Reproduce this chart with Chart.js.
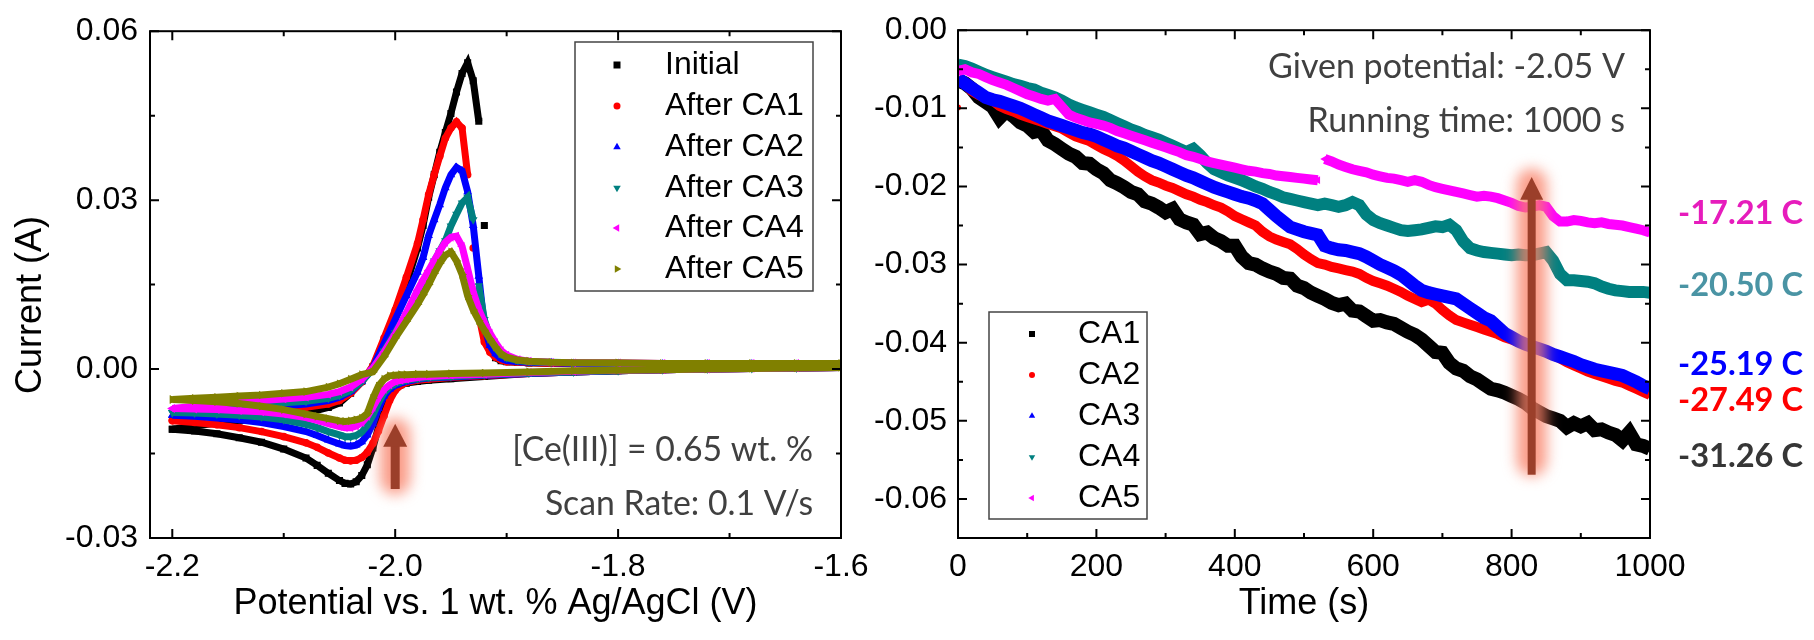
<!DOCTYPE html>
<html>
<head>
<meta charset="utf-8">
<script src="https://cdn.jsdelivr.net/npm/chart.js@4.4.0/dist/chart.umd.min.js"></script>
<style>
  body { margin: 0; background: #fff; }
  #wrap { position: relative; width: 1814px; height: 640px; }
  canvas { position: absolute; left: 0; top: 0; }
</style>
</head>
<body>
<div id="wrap">
  <canvas id="cvChart" width="1814" height="640"></canvas>
  <canvas id="caChart" width="1814" height="640"></canvas>
</div>
<script>
// ---------- left panel: cyclic voltammograms ----------
const cvLabels = ['Initial', 'After CA1', 'After CA2', 'After CA3', 'After CA4', 'After CA5'];

// forward (anodic) scan potentials, V
const potentialFwd = [-2.20, -2.18, -2.16, -2.14, -2.12, -2.10, -2.08, -2.06, -2.05, -2.04,
  -2.03, -2.02, -2.01, -2.00, -1.99, -1.98, -1.975, -1.97, -1.965, -1.96,
  -1.955, -1.95, -1.945, -1.94, -1.935, -1.93, -1.925, -1.92, -1.915, -1.91,
  -1.905, -1.90, -1.89, -1.88, -1.86, -1.84, -1.80, -1.76, -1.72, -1.68, -1.64, -1.60];
// reverse (cathodic) scan potentials, V
const potentialRev = [-1.60, -1.64, -1.68, -1.72, -1.76, -1.80, -1.84, -1.88, -1.92, -1.95,
  -1.97, -1.98, -1.99, -1.995, -2.00, -2.005, -2.01, -2.015, -2.02, -2.025,
  -2.03, -2.035, -2.04, -2.045, -2.05, -2.06, -2.07, -2.08, -2.10, -2.12,
  -2.14, -2.16, -2.18, -2.20];

const initialFwd = [-0.0107, -0.0101, -0.0096, -0.0092, -0.0088, -0.0084, -0.0078, -0.0068, -0.0060, -0.0043,
  -0.0022, 0.0004, 0.0047, 0.0098, 0.0150, 0.0215, 0.0255, 0.0305, 0.0345, 0.0385,
  0.0420, 0.0454, 0.0492, 0.0525, 0.0544, 0.0512, 0.0440, 0.0255, 0.0035, 0.0020,
  0.0015, 0.0013, 0.0012, 0.0011, 0.0010, 0.0010, 0.0009, 0.0009, 0.0008, 0.0008, 0.0008, 0.0008];
const initialRev = [0.0003, 0.0002, 0.0001, 0.0000, -0.0001, -0.0003, -0.0005, -0.0008, -0.0013, -0.0017,
  -0.0020, -0.0022, -0.0025, -0.0028, -0.0033, -0.0045, -0.0068, -0.0103, -0.0140, -0.0170,
  -0.0189, -0.0200, -0.0204, -0.0203, -0.0198, -0.0185, -0.0171, -0.0158, -0.0142, -0.0130,
  -0.0122, -0.0115, -0.0110, -0.0107];

const afterCa1Fwd = [-0.0091, -0.0086, -0.0082, -0.0078, -0.0075, -0.0072, -0.0068, -0.0062, -0.0056, -0.0043,
  -0.0023, 0.0006, 0.0055, 0.0105, 0.0163, 0.0223, 0.0265, 0.0310, 0.0345, 0.0378,
  0.0410, 0.0428, 0.0439, 0.0428, 0.0345, 0.0215, 0.0095, 0.0048, 0.0030, 0.0021,
  0.0016, 0.0013, 0.0012, 0.0011, 0.0010, 0.0010, 0.0009, 0.0009, 0.0008, 0.0008, 0.0008, 0.0008];
const afterCa1Rev = [0.0003, 0.0002, 0.0001, 0.0000, -0.0001, -0.0003, -0.0005, -0.0008, -0.0012, -0.0015,
  -0.0018, -0.0020, -0.0024, -0.0029, -0.0038, -0.0056, -0.0083, -0.0110, -0.0132, -0.0148,
  -0.0157, -0.0162, -0.0163, -0.0162, -0.0158, -0.0149, -0.0139, -0.0131, -0.0120, -0.0111,
  -0.0104, -0.0099, -0.0095, -0.0092];

const afterCa2Fwd = [-0.0082, -0.0078, -0.0074, -0.0071, -0.0068, -0.0065, -0.0062, -0.0056, -0.0050, -0.0040,
  -0.0022, 0.0003, 0.0045, 0.0088, 0.0130, 0.0172, 0.0198, 0.0237, 0.0265, 0.0292,
  0.0322, 0.0345, 0.0358, 0.0352, 0.0315, 0.0255, 0.0165, 0.0075, 0.0042, 0.0027,
  0.0019, 0.0015, 0.0013, 0.0012, 0.0011, 0.0010, 0.0010, 0.0009, 0.0009, 0.0009, 0.0008, 0.0008];
const afterCa2Rev = [0.0003, 0.0002, 0.0001, 0.0000, -0.0001, -0.0003, -0.0005, -0.0008, -0.0011, -0.0014,
  -0.0016, -0.0018, -0.0022, -0.0025, -0.0029, -0.0036, -0.0048, -0.0070, -0.0097, -0.0117,
  -0.0129, -0.0135, -0.0137, -0.0136, -0.0133, -0.0126, -0.0118, -0.0111, -0.0102, -0.0095,
  -0.0090, -0.0087, -0.0084, -0.0082];

const afterCa3Fwd = [-0.0077, -0.0073, -0.0069, -0.0066, -0.0063, -0.0060, -0.0057, -0.0052, -0.0047, -0.0038,
  -0.0022, 0.0000, 0.0032, 0.0065, 0.0097, 0.0130, 0.0150, 0.0170, 0.0192, 0.0210,
  0.0228, 0.0254, 0.0275, 0.0295, 0.0305, 0.0265, 0.0148, 0.0088, 0.0058, 0.0038,
  0.0026, 0.0020, 0.0015, 0.0013, 0.0012, 0.0011, 0.0010, 0.0010, 0.0009, 0.0009, 0.0009, 0.0009];
const afterCa3Rev = [0.0003, 0.0002, 0.0001, 0.0000, -0.0001, -0.0003, -0.0005, -0.0007, -0.0010, -0.0013,
  -0.0015, -0.0017, -0.0020, -0.0022, -0.0026, -0.0032, -0.0042, -0.0060, -0.0082, -0.0100,
  -0.0112, -0.0118, -0.0120, -0.0120, -0.0117, -0.0111, -0.0104, -0.0098, -0.0090, -0.0085,
  -0.0082, -0.0080, -0.0078, -0.0077];

const afterCa4Fwd = [-0.0070, -0.0066, -0.0062, -0.0059, -0.0056, -0.0053, -0.0050, -0.0045, -0.0040, -0.0032,
  -0.0018, 0.0002, 0.0030, 0.0062, 0.0100, 0.0140, 0.0158, 0.0175, 0.0193, 0.0210,
  0.0225, 0.0234, 0.0236, 0.0218, 0.0178, 0.0137, 0.0106, 0.0083, 0.0064, 0.0047,
  0.0033, 0.0025, 0.0017, 0.0014, 0.0012, 0.0011, 0.0011, 0.0010, 0.0010, 0.0010, 0.0010, 0.0010];
const afterCa4Rev = [0.0003, 0.0002, 0.0001, 0.0000, -0.0001, -0.0002, -0.0004, -0.0006, -0.0009, -0.0011,
  -0.0013, -0.0015, -0.0018, -0.0020, -0.0022, -0.0028, -0.0036, -0.0050, -0.0068, -0.0084,
  -0.0095, -0.0101, -0.0104, -0.0104, -0.0102, -0.0097, -0.0091, -0.0086, -0.0080, -0.0076,
  -0.0074, -0.0072, -0.0071, -0.0070];

const afterCa5Fwd = [-0.0054, -0.0052, -0.0050, -0.0048, -0.0046, -0.0043, -0.0040, -0.0032, -0.0026, -0.0018,
  -0.0010, -0.0005, 0.0022, 0.0055, 0.0085, 0.0115, 0.0132, 0.0150, 0.0170, 0.0188,
  0.0202, 0.0208, 0.0192, 0.0168, 0.0130, 0.0105, 0.0086, 0.0069, 0.0053, 0.0039,
  0.0027, 0.0021, 0.0016, 0.0014, 0.0012, 0.0011, 0.0011, 0.0010, 0.0010, 0.0010, 0.0010, 0.0010];
const afterCa5Rev = [0.0003, 0.0002, 0.0001, 0.0000, -0.0001, -0.0002, -0.0003, -0.0005, -0.0007, -0.0008,
  -0.0009, -0.0009, -0.0010, -0.0010, -0.0011, -0.0012, -0.0018, -0.0030, -0.0052, -0.0079,
  -0.0087, -0.0090, -0.0092, -0.0093, -0.0092, -0.0088, -0.0084, -0.0080, -0.0072, -0.0066,
  -0.0061, -0.0058, -0.0056, -0.0054];

const cvXMajor = [-2.2, -2.0, -1.8, -1.6];
const cvXMinor = [-2.1, -1.9, -1.7];
const cvYMajor = [-0.03, 0, 0.03, 0.06];
const cvYMinor = [-0.015, 0.015, 0.045];

// ---------- right panel: chronoamperometry ----------
const caLabels = ['CA1', 'CA2', 'CA3', 'CA4', 'CA5'];
const chargeLabels = ['-17.21 C', '-20.50 C', '-25.19 C', '-27.49 C', '-31.26 C'];

const timeS = [0, 10, 20, 30, 40, 50, 60, 70, 80, 90,
  100, 110, 120, 130, 140, 150, 160, 170, 180, 190,
  200, 210, 220, 230, 240, 250, 260, 270, 280, 290,
  300, 310, 320, 330, 340, 350, 360, 370, 380, 390,
  400, 410, 420, 430, 440, 450, 460, 470, 480, 490,
  500, 510, 520, 530, 540, 550, 560, 570, 580, 590,
  600, 610, 620, 630, 640, 650, 660, 670, 680, 690,
  700, 710, 720, 730, 740, 750, 760, 770, 780, 790,
  800, 810, 820, 830, 840, 850, 860, 870, 880, 890,
  900, 910, 920, 930, 940, 950, 960, 970, 980, 990, 1000];

const ca1Current = [-0.0064, -0.0068, -0.0075, -0.0086, -0.0092, -0.0098, -0.0112, -0.0103, -0.0110, -0.0118,
  -0.0122, -0.0130, -0.0128, -0.0141, -0.0146, -0.0152, -0.0158, -0.0162, -0.0170, -0.0171,
  -0.0178, -0.0183, -0.0192, -0.0196, -0.0201, -0.0207, -0.0210, -0.0219, -0.0222, -0.0227,
  -0.0233, -0.0229, -0.0242, -0.0246, -0.0249, -0.0261, -0.0259, -0.0266, -0.0270, -0.0276,
  -0.0276, -0.0290, -0.0298, -0.0300, -0.0305, -0.0309, -0.0312, -0.0317, -0.0318, -0.0327,
  -0.0330, -0.0336, -0.0340, -0.0344, -0.0349, -0.0352, -0.0350, -0.0359, -0.0360, -0.0366,
  -0.0372, -0.0371, -0.0374, -0.0376, -0.0381, -0.0386, -0.0390, -0.0396, -0.0404, -0.0412,
  -0.0413, -0.0426, -0.0433, -0.0436, -0.0443, -0.0447, -0.0453, -0.0459, -0.0461, -0.0464,
  -0.0468, -0.0472, -0.0477, -0.0484, -0.0489, -0.0494, -0.0497, -0.0500, -0.0508, -0.0503,
  -0.0507, -0.0503, -0.0512, -0.0511, -0.0515, -0.0518, -0.0525, -0.0515, -0.0530, -0.0532, -0.0536];

const ca2Current = [-0.0099, -0.0068, -0.0078, -0.0083, -0.0087, -0.0090, -0.0097, -0.0101, -0.0104, -0.0108,
  -0.0111, -0.0114, -0.0117, -0.0120, -0.0123, -0.0126, -0.0131, -0.0136, -0.0139, -0.0142,
  -0.0147, -0.0152, -0.0156, -0.0161, -0.0167, -0.0174, -0.0181, -0.0187, -0.0192, -0.0195,
  -0.0199, -0.0202, -0.0206, -0.0210, -0.0213, -0.0217, -0.0220, -0.0224, -0.0227, -0.0232,
  -0.0238, -0.0242, -0.0246, -0.0250, -0.0258, -0.0264, -0.0268, -0.0271, -0.0274, -0.0280,
  -0.0287, -0.0293, -0.0298, -0.0300, -0.0303, -0.0305, -0.0307, -0.0309, -0.0312, -0.0317,
  -0.0321, -0.0324, -0.0327, -0.0331, -0.0335, -0.0340, -0.0344, -0.0348, -0.0345, -0.0350,
  -0.0358, -0.0365, -0.0371, -0.0374, -0.0377, -0.0380, -0.0383, -0.0386, -0.0389, -0.0393,
  -0.0396, -0.0399, -0.0402, -0.0405, -0.0408, -0.0411, -0.0416, -0.0420, -0.0425, -0.0429,
  -0.0433, -0.0437, -0.0440, -0.0443, -0.0446, -0.0449, -0.0451, -0.0455, -0.0459, -0.0463, -0.0467];

const ca3Current = [-0.0062, -0.0068, -0.0074, -0.0080, -0.0086, -0.0089, -0.0091, -0.0094, -0.0097, -0.0100,
  -0.0104, -0.0108, -0.0112, -0.0116, -0.0119, -0.0122, -0.0125, -0.0128, -0.0131, -0.0133,
  -0.0136, -0.0140, -0.0144, -0.0148, -0.0151, -0.0155, -0.0159, -0.0163, -0.0167, -0.0170,
  -0.0174, -0.0178, -0.0182, -0.0186, -0.0189, -0.0193, -0.0197, -0.0201, -0.0204, -0.0207,
  -0.0210, -0.0213, -0.0215, -0.0218, -0.0222, -0.0230, -0.0238, -0.0245, -0.0252, -0.0255,
  -0.0258, -0.0260, -0.0262, -0.0276, -0.0279, -0.0281, -0.0282, -0.0284, -0.0286, -0.0290,
  -0.0295, -0.0300, -0.0304, -0.0308, -0.0313, -0.0320, -0.0327, -0.0333, -0.0336, -0.0338,
  -0.0340, -0.0342, -0.0344, -0.0350, -0.0356, -0.0362, -0.0368, -0.0372, -0.0380, -0.0388,
  -0.0393, -0.0398, -0.0402, -0.0405, -0.0408, -0.0411, -0.0415, -0.0418, -0.0421, -0.0424,
  -0.0428, -0.0431, -0.0434, -0.0436, -0.0438, -0.0440, -0.0442, -0.0446, -0.0450, -0.0455, -0.0459];

const ca4Current = [-0.0044, -0.0046, -0.0049, -0.0053, -0.0057, -0.0060, -0.0063, -0.0066, -0.0069, -0.0071,
  -0.0074, -0.0076, -0.0080, -0.0083, -0.0086, -0.0090, -0.0095, -0.0099, -0.0102, -0.0105,
  -0.0108, -0.0111, -0.0115, -0.0119, -0.0123, -0.0127, -0.0130, -0.0134, -0.0137, -0.0140,
  -0.0144, -0.0148, -0.0152, -0.0156, -0.0152, -0.0160, -0.0170, -0.0178, -0.0182, -0.0186,
  -0.0189, -0.0192, -0.0196, -0.0200, -0.0203, -0.0207, -0.0210, -0.0214, -0.0216, -0.0218,
  -0.0220, -0.0222, -0.0224, -0.0222, -0.0224, -0.0226, -0.0224, -0.0220, -0.0224, -0.0236,
  -0.0243, -0.0247, -0.0250, -0.0253, -0.0256, -0.0257, -0.0256, -0.0255, -0.0253, -0.0251,
  -0.0252, -0.0249, -0.0256, -0.0270, -0.0279, -0.0282, -0.0284, -0.0285, -0.0286, -0.0287,
  -0.0288, -0.0287, -0.0288, -0.0288, -0.0286, -0.0284, -0.0295, -0.0312, -0.0320, -0.0320,
  -0.0321, -0.0322, -0.0324, -0.0328, -0.0331, -0.0333, -0.0334, -0.0335, -0.0335, -0.0335, -0.0336];

const ca5Current = [-0.0052, -0.0050, -0.0054, -0.0056, -0.0060, -0.0064, -0.0067, -0.0070, -0.0074, -0.0078,
  -0.0082, -0.0085, -0.0088, -0.0090, -0.0088, -0.0098, -0.0108, -0.0112, -0.0115, -0.0118,
  -0.0120, -0.0122, -0.0125, -0.0129, -0.0132, -0.0135, -0.0138, -0.0141, -0.0144, -0.0147,
  -0.0150, -0.0153, -0.0156, -0.0160, -0.0162, -0.0165, -0.0168, -0.0170, -0.0172, -0.0174,
  -0.0176, -0.0178, -0.0180, -0.0181, -0.0183, -0.0184, -0.0186, -0.0187, -0.0188, -0.0189,
  -0.0190, -0.0191, -0.0192, -0.0165, -0.0168, -0.0172, -0.0175, -0.0178, -0.0180, -0.0182,
  -0.0185, -0.0187, -0.0189, -0.0190, -0.0192, -0.0194, -0.0192, -0.0194, -0.0198, -0.0201,
  -0.0203, -0.0205, -0.0207, -0.0209, -0.0211, -0.0213, -0.0212, -0.0213, -0.0215, -0.0218,
  -0.0221, -0.0225, -0.0227, -0.0226, -0.0224, -0.0226, -0.0238, -0.0245, -0.0245, -0.0243,
  -0.0244, -0.0246, -0.0247, -0.0246, -0.0248, -0.0249, -0.0250, -0.0252, -0.0254, -0.0256, -0.0259];

const caXMajor = [0, 200, 400, 600, 800, 1000];
const caXMinor = [100, 300, 500, 700, 900];
const caYMajor = [0, -0.01, -0.02, -0.03, -0.04, -0.05, -0.06];
const caYMinor = [-0.005, -0.015, -0.025, -0.035, -0.045, -0.055];

// ---------- styles ----------
const SANS = "'Liberation Sans', Arial, sans-serif";
const NOTE_FONT = "Lato, 'Open Sans', sans-serif";
Chart.defaults.font.family = SANS;
Chart.defaults.color = '#000';

const cvStyle = [
  { color: '#000000', point: 'rect', rot: 0, r: 5, marker: 'square' },
  { color: '#ff0000', point: 'circle', rot: 0, r: 3.8, marker: 'circle' },
  { color: '#0000ff', point: 'triangle', rot: 0, r: 5, marker: 'up' },
  { color: '#008080', point: 'triangle', rot: 180, r: 5, marker: 'down' },
  { color: '#ff00ff', point: 'triangle', rot: 270, r: 5, marker: 'left' },
  { color: '#808000', point: 'triangle', rot: 90, r: 5, marker: 'right' }
];
const caStyle = [
  { color: '#000000', point: 'rect', rot: 0, r: 4, marker: 'square', width: 14 },
  { color: '#ff0000', point: 'circle', rot: 0, r: 3, marker: 'circle', width: 10 },
  { color: '#0000ff', point: 'triangle', rot: 0, r: 5, marker: 'up', width: 13 },
  { color: '#008080', point: 'triangle', rot: 180, r: 5, marker: 'down', width: 12 },
  { color: '#ff00ff', point: 'triangle', rot: 270, r: 4.5, marker: 'left', width: 10 }
];
const chargeColors = ['#e61cbc', '#4a94a4', '#0000ff', '#ff0000', '#363636'];

function gapColor(limit) {
  return ctx => Math.hypot(ctx.p1.x - ctx.p0.x, ctx.p1.y - ctx.p0.y) > limit ? 'rgba(0,0,0,0)' : undefined;
}

function drawMarker(ctx, style, x, y, s, color) {
  ctx.fillStyle = color;
  ctx.beginPath();
  if (style === 'square') {
    ctx.rect(x - s / 2, y - s / 2, s, s);
  } else if (style === 'circle') {
    ctx.arc(x, y, s / 2, 0, Math.PI * 2);
  } else {
    const ang = { up: 0, right: 90, down: 180, left: 270 }[style] * Math.PI / 180;
    const r = s * 0.62;
    for (let k = 0; k < 3; k++) {
      const a = ang + k * 2 * Math.PI / 3;
      const px = x + Math.sin(a) * r, py = y - Math.cos(a) * r;
      if (k) ctx.lineTo(px, py); else ctx.moveTo(px, py);
    }
    ctx.closePath();
  }
  ctx.fill();
}

function fitSize(ctx, text, width, weight) {
  ctx.font = weight + ' 100px ' + NOTE_FONT;
  return 100 * width / ctx.measureText(text).width;
}

function drawArrow(ctx, sx, sy, ar) {
  const x = sx.getPixelForValue(ar.x);
  const yTip = sy.getPixelForValue(ar.tip);
  const yBase = sy.getPixelForValue(ar.base);
  const yEnd = sy.getPixelForValue(ar.end);
  const gTop = sy.getPixelForValue(ar.glowTop);
  const gBot = sy.getPixelForValue(ar.glowBottom);
  ctx.save();
  ctx.filter = 'blur(7px)';
  ctx.fillStyle = 'rgba(248,128,102,0.78)';
  ctx.beginPath();
  ctx.roundRect(x - 15, gTop + 8, 30, gBot - gTop - 16, 15);
  ctx.fill();
  ctx.restore();
  ctx.fillStyle = '#9b3f2a';
  ctx.fillRect(x - ar.shaft / 2, yBase - 1, ar.shaft, yEnd - yBase + 1);
  ctx.beginPath();
  ctx.moveTo(x, yTip);
  ctx.lineTo(x + ar.head / 2, yBase);
  ctx.lineTo(x - ar.head / 2, yBase);
  ctx.closePath();
  ctx.fill();
}

const frameDecor = {
  id: 'frameDecor',
  afterDatasetsDraw(chart, args, o) {
    const ctx = chart.ctx, a = chart.chartArea;
    const sx = chart.scales.x, sy = chart.scales.y;
    ctx.save();
    if (o.arrow) drawArrow(ctx, sx, sy, o.arrow);

    // box frame with inward ticks on all four sides
    ctx.strokeStyle = '#000';
    ctx.lineWidth = 2;
    ctx.strokeRect(a.left, a.top, a.right - a.left, a.bottom - a.top);
    ctx.beginPath();
    const xt = (v, len) => {
      const p = sx.getPixelForValue(v);
      ctx.moveTo(p, a.bottom); ctx.lineTo(p, a.bottom - len);
      ctx.moveTo(p, a.top); ctx.lineTo(p, a.top + len);
    };
    const yt = (v, len) => {
      const p = sy.getPixelForValue(v);
      ctx.moveTo(a.left, p); ctx.lineTo(a.left + len, p);
      ctx.moveTo(a.right, p); ctx.lineTo(a.right - len, p);
    };
    o.xMajor.forEach(v => xt(v, 9));
    o.xMinor.forEach(v => xt(v, 5));
    o.yMajor.forEach(v => yt(v, 9));
    o.yMinor.forEach(v => yt(v, 5));
    ctx.stroke();

    // axis titles
    ctx.fillStyle = '#000';
    ctx.font = '36px ' + SANS;
    ctx.textAlign = 'center';
    ctx.textBaseline = 'alphabetic';
    ctx.fillText(o.xTitle, (a.left + a.right) / 2, 614);
    if (o.yTitle) {
      ctx.save();
      ctx.translate(41, 305);
      ctx.rotate(-Math.PI / 2);
      ctx.fillText(o.yTitle, 0, 0);
      ctx.restore();
    }

    // legend box
    const lg = o.legend;
    ctx.strokeStyle = '#444';
    ctx.lineWidth = 1.5;
    ctx.strokeRect(lg.box[0], lg.box[1], lg.box[2] - lg.box[0], lg.box[3] - lg.box[1]);
    ctx.font = '32px ' + SANS;
    ctx.textAlign = 'left';
    ctx.textBaseline = 'middle';
    lg.labels.forEach((t, i) => {
      drawMarker(ctx, lg.styles[i].marker, lg.markerX, lg.rowY[i], lg.size, lg.styles[i].color);
      ctx.fillStyle = '#000';
      ctx.fillText(t, lg.textX, lg.rowY[i]);
    });

    // notes
    const n = o.notes;
    const ns = fitSize(ctx, n.lines[0], n.fitWidth, 'normal');
    ctx.font = 'normal ' + ns + 'px ' + NOTE_FONT;
    ctx.fillStyle = '#404040';
    ctx.textAlign = 'right';
    ctx.textBaseline = 'alphabetic';
    n.lines.forEach((t, i) => ctx.fillText(t, n.right, n.baselines[i]));

    // integrated charge labels
    if (o.side) {
      const s = o.side;
      const fs = fitSize(ctx, s.texts[0], s.fitWidth, 'bold');
      ctx.font = 'bold ' + fs + 'px ' + NOTE_FONT;
      ctx.textAlign = 'left';
      s.texts.forEach((t, i) => {
        ctx.fillStyle = s.colors[i];
        ctx.fillText(t, s.left, s.baselines[i]);
      });
    }
    ctx.restore();
  }
};

function axisOpts(min, max, majors, fmt, fit, pad) {
  return {
    type: 'linear', min: min, max: max,
    grid: { display: false, drawTicks: false },
    border: { display: false },
    afterBuildTicks: s => { s.ticks = majors.map(v => ({ value: v })); },
    afterFit: fit,
    ticks: { font: { size: 32 }, color: '#000', padding: pad, maxRotation: 0, autoSkip: false, callback: fmt }
  };
}

function cvPoints(fwd, rev) {
  return potentialFwd.map((x, i) => ({ x: x, y: fwd[i] }))
    .concat(potentialRev.map((x, i) => ({ x: x, y: rev[i] })));
}
const cvFwd = [initialFwd, afterCa1Fwd, afterCa2Fwd, afterCa3Fwd, afterCa4Fwd, afterCa5Fwd];
const cvRev = [initialRev, afterCa1Rev, afterCa2Rev, afterCa3Rev, afterCa4Rev, afterCa5Rev];

new Chart(document.getElementById('cvChart'), {
  type: 'scatter',
  data: {
    datasets: cvLabels.map((label, i) => ({
      label: label,
      data: cvPoints(cvFwd[i], cvRev[i]),
      showLine: true,
      borderColor: cvStyle[i].color,
      backgroundColor: cvStyle[i].color,
      borderWidth: 7,
      pointStyle: cvStyle[i].point,
      rotation: cvStyle[i].rot,
      pointRadius: cvStyle[i].r,
      pointBorderWidth: 0,
      order: cvLabels.length - 1 - i,
      segment: { borderColor: gapColor(60) }
    }))
  },
  options: {
    responsive: false, animation: false, events: [], devicePixelRatio: 1,
    layout: { padding: { top: 23, right: 973, left: 0, bottom: 0 } },
    plugins: {
      legend: { display: false }, tooltip: { enabled: false },
      frameDecor: {
        xMajor: cvXMajor, xMinor: cvXMinor, yMajor: cvYMajor, yMinor: cvYMinor,
        xTitle: 'Potential vs. 1 wt. % Ag/AgCl (V)', yTitle: 'Current (A)',
        legend: { labels: cvLabels, styles: cvStyle, box: [575, 42, 813, 291], markerX: 617, textX: 665,
                  rowY: [65, 106, 147, 188, 228, 269], size: 7 },
        notes: { lines: ['[Ce(III)] = 0.65 wt. %', 'Scan Rate: 0.1 V/s'], right: 813, baselines: [461, 515], fitWidth: 301 },
        arrow: { x: -2.0, tip: -0.0097, base: -0.0138, end: -0.0213, glowTop: -0.0073, glowBottom: -0.0237, head: 24, shaft: 9 }
      }
    },
    scales: {
      x: axisOpts(-2.22, -1.6, cvXMajor, v => v.toFixed(1), s => { s.height = 102; }, 10),
      y: axisOpts(-0.03, 0.06, cvYMajor, v => v.toFixed(2), s => { s.width = 150; }, 12)
    }
  },
  plugins: [frameDecor]
});

const caSeries = [ca1Current, ca2Current, ca3Current, ca4Current, ca5Current];

new Chart(document.getElementById('caChart'), {
  type: 'scatter',
  data: {
    datasets: caLabels.map((label, i) => ({
      label: label,
      data: timeS.map((t, k) => ({ x: t, y: caSeries[i][k] })),
      showLine: true,
      borderColor: caStyle[i].color,
      backgroundColor: caStyle[i].color,
      borderWidth: caStyle[i].width,
      pointStyle: caStyle[i].point,
      rotation: caStyle[i].rot,
      pointRadius: caStyle[i].r,
      pointBorderWidth: 0,
      order: caLabels.length - 1 - i,
      segment: { borderColor: gapColor(18) }
    }))
  },
  options: {
    responsive: false, animation: false, events: [], devicePixelRatio: 1,
    layout: { padding: { top: 23, right: 164, left: 0, bottom: 0 } },
    plugins: {
      legend: { display: false }, tooltip: { enabled: false },
      frameDecor: {
        xMajor: caXMajor, xMinor: caXMinor, yMajor: caYMajor, yMinor: caYMinor,
        xTitle: 'Time (s)',
        legend: { labels: caLabels, styles: caStyle, box: [989, 312, 1147, 519], markerX: 1032, textX: 1078,
                  rowY: [334, 375, 416, 457, 498], size: 6 },
        notes: { lines: ['Given potential: -2.05 V', 'Running time: 1000 s'], right: 1625, baselines: [78, 132], fitWidth: 357 },
        arrow: { x: 829, tip: -0.0188, base: -0.0217, end: -0.0569, glowTop: -0.0167, glowBottom: -0.0581, head: 23, shaft: 8 },
        side: { texts: chargeLabels, colors: chargeColors, left: 1678, baselines: [224, 296, 375, 411, 467], fitWidth: 125 }
      }
    },
    scales: {
      x: axisOpts(0, 1000, caXMajor, v => String(v), s => { s.height = 102; }, 10),
      y: axisOpts(-0.065, 0, caYMajor, v => v.toFixed(2), s => { s.width = 958; }, 11)
    }
  },
  plugins: [frameDecor]
});
</script>
</body>
</html>
